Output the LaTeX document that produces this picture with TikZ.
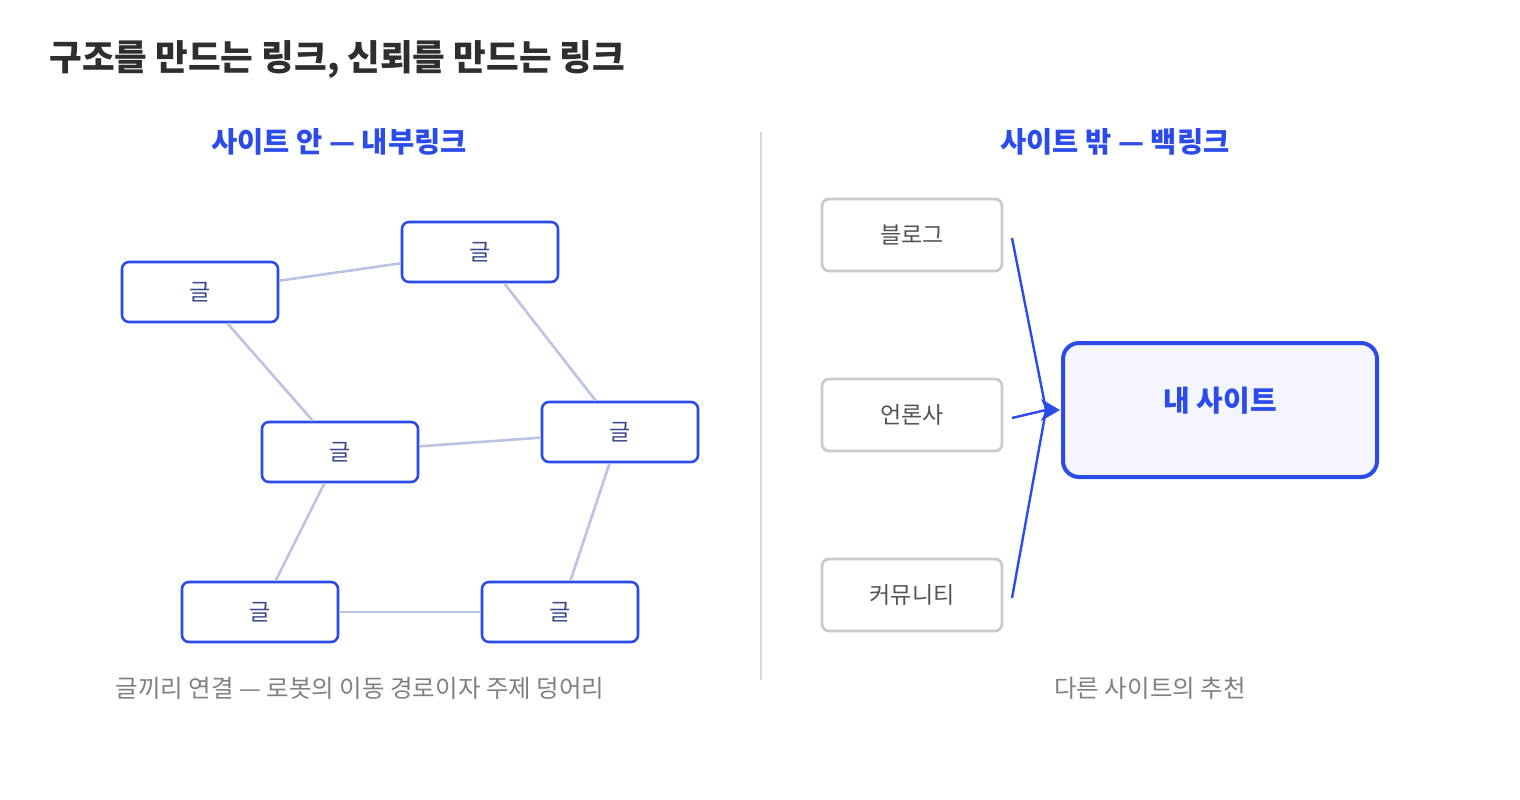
\documentclass[tikz,border=0pt]{standalone}
\usepackage{fontspec}
\setmainfont{Noto Sans CJK KR}
\usetikzlibrary{arrows.meta}
\definecolor{bl}{HTML}{2B4BEA}
\definecolor{lk}{HTML}{B9C3E3}
\definecolor{gt}{HTML}{3C4A8C}
\definecolor{gb}{HTML}{CCCCCC}
\begin{document}
\begin{tikzpicture}[x=1pt,y=-1pt,
 post/.style={draw=bl,line width=2.6pt,rounded corners=7pt,minimum width=156pt,minimum height=60pt,inner sep=0pt,text=gt,font=\fontsize{23}{26}\selectfont},
 site/.style={draw=gb,line width=2.8pt,rounded corners=7pt,minimum width=180pt,minimum height=72pt,inner sep=0pt,text=black!68,font=\fontsize{23}{26}\selectfont},
 lnk/.style={lk,line width=2.6pt},
 hd/.style={text=bl,font=\fontsize{28.5}{32}\selectfont\bfseries},
 captxt/.style={text=black!50,font=\fontsize{24.5}{28}\selectfont},
 ar/.style={bl,line width=2.4pt}]
\useasboundingbox (0,0) rectangle (1520,800);
\node[anchor=west,text=black!82,font=\fontsize{35.5}{40}\selectfont\bfseries] (t) at (46,60) {구조를 만드는 링크, 신뢰를 만드는 링크};
\node[hd] (hl) at (339,142) {사이트 안 — 내부링크};
\node[hd] (hr) at (1115,142) {사이트 밖 — 백링크};
\coordinate (d1) at (761,132); \coordinate (d2) at (761,680);
\draw[black!15,line width=2.5pt] (d1)--(d2);
\node[post] (a) at (200,292) {글};
\node[post] (b) at (480,252) {글};
\node[post] (c) at (340,452) {글};
\node[post] (d) at (620,432) {글};
\node[post] (e) at (260,612) {글};
\node[post] (f) at (560,612) {글};
\draw[lnk] (a)--(b); \draw[lnk] (b)--(d); \draw[lnk] (a)--(c);
\draw[lnk] (c)--(d); \draw[lnk] (c)--(e); \draw[lnk] (d)--(f); \draw[lnk] (e)--(f);
\node[captxt] (cl) at (360,688) {글끼리 연결 — 로봇의 이동 경로이자 주제 덩어리};
\node[site] (s1) at (912,235) {블로그};
\node[site,minimum height=72pt] (s2) at (912,415) {언론사};
\node[site] (s3) at (912,595) {커뮤니티};
\node[draw=bl,fill=blue!4,line width=4pt,rounded corners=16pt,minimum width=314pt,minimum height=134pt,inner sep=0pt] (m) at (1220,410) {};
\node[text=bl,font=\fontsize{29}{32}\selectfont\bfseries] (mt) at (1220,401) {내 사이트};
\coordinate (p1) at (1012,238); \coordinate (p2) at (1012,418); \coordinate (p3) at (1012,598);
\coordinate (tip) at (1060,410);
\draw[ar] (p1)--(1046,410); \draw[ar] (p2)--(1046,410); \draw[ar] (p3)--(1046,410);
\fill[bl] (tip) -- (1041,399) -- (1046,410) -- (1041,421) -- cycle;
\node[captxt] (cr) at (1150,688) {다른 사이트의 추천};
\end{tikzpicture}
\end{document}
